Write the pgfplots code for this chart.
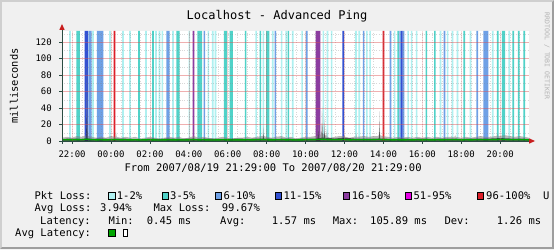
\documentclass[border=0pt]{standalone}
\usepackage{fontspec}
\setmonofont{DejaVu Sans Mono}
\usepackage{pgfplots}
\pgfplotsset{compat=1.18}
\definecolor{bgc}{RGB}{240,240,240}
\definecolor{shadeA}{RGB}{207,207,207}
\definecolor{shadeB}{RGB}{158,158,158}
\definecolor{axisc}{RGB}{44,77,67}
\definecolor{arrowc}{RGB}{200,30,30}
\definecolor{mgrid}{RGB}{220,80,80}
\definecolor{Lone}{RGB}{175,240,240}
\definecolor{Ltwo}{RGB}{80,210,200}
\definecolor{Lthree}{RGB}{110,160,230}
\definecolor{Lfour}{RGB}{50,80,210}
\definecolor{Lfive}{RGB}{140,60,160}
\definecolor{Lsix}{RGB}{230,0,230}
\definecolor{Lseven}{RGB}{220,30,40}
\definecolor{medc}{RGB}{0,165,0}
\newcommand\lf{\ttfamily\fontsize{10.5}{12}\selectfont}
\begin{document}
\begin{tikzpicture}[x=1pt,y=1pt]
\fill[bgc] (0,0) rectangle (554,249);
\fill[shadeA] (0,0) -- (0,249) -- (554,249) -- (552,247) -- (2,247) -- (2,2) -- cycle;
\fill[shadeB] (554,249) -- (554,0) -- (0,0) -- (2,2) -- (552,2) -- (552,247) -- cycle;
\fill[bgc] (2,2) rectangle (552,247);

\begin{axis}[
 at={(62pt,108pt)}, anchor=south west, scale only axis,
 width=467pt, height=110pt,
 xmin=21.4833, xmax=45.4833, ymin=0, ymax=133.3,
 enlargelimits=false,
 axis line style={draw=none},
 axis background/.style={fill=white},
 axis on top,
 xtick={22,24,...,44},
 xticklabels={22:00,00:00,02:00,04:00,06:00,08:00,10:00,12:00,14:00,16:00,18:00,20:00},
 ytick={0,20,...,120},
 minor xtick={21.5,22,...,45},
 minor ytick={10,30,...,130},
 grid=both,
 major y grid style={draw=mgrid, line width=0.5pt, opacity=0.45},
 major x grid style={draw=mgrid, line width=0.5pt, opacity=0.2},
 minor grid style={draw=gray, line width=0.4pt, opacity=0.3, dotted},
 tick pos=left,
 major tick length=3pt, minor tick length=0pt,
 tick align=outside,
 major tick style={draw=axisc, line width=0.6pt},
 tick label style={font=\ttfamily\fontsize{9}{10}\selectfont, text=black},
 xticklabel style={anchor=base, inner sep=0pt, yshift=-14pt},
 yticklabel style={anchor=base east, inner sep=0pt, xshift=-7pt, yshift=-3.2pt},
 /pgf/number format/assume math mode=true,
]
% loss bars
\addplot[ybar, bar width=0.085, bar shift=0pt, fill=Lone, draw=none] coordinates {
(21.895,133.3) (23.077,133.3) (23.951,133.3) (24.620,133.3) (24.980,133.3) (25.802,133.3)
(26.316,133.3) (26.496,133.3) (26.640,133.3) (27.190,133.3) (28.028,133.3) (29.005,133.3)
(29.231,133.3) (29.375,133.3) (31.458,133.3) (31.833,133.3) (32.316,133.3) (32.768,133.3)
(33.000,133.3) (33.345,133.3) (33.823,133.3) (34.918,133.3) (35.124,133.3) (35.339,133.3)
(36.589,133.3) (36.763,133.3) (37.149,133.3) (37.319,133.3) (38.579,133.3) (39.273,133.3)
(39.453,133.3) (39.710,133.3) (40.933,133.3) (41.303,133.3) (41.550,133.3) (41.807,133.3)
(42.475,133.3) (43.617,133.3) (44.465,133.3)};
\addplot[ybar, bar width=0.085, bar shift=0pt, fill=Ltwo, draw=none] coordinates {
(22.270,133.3) (22.353,133.3) (25.442,133.3) (26.162,133.3) (27.405,133.3) (27.489,133.3)
(28.482,133.3) (28.565,133.3) (28.648,133.3) (29.848,133.3) (29.931,133.3) (30.144,133.3)
(30.227,133.3) (30.918,133.3) (31.676,133.3) (32.015,133.3) (32.098,133.3) (33.118,133.3)
(38.759,133.3) (40.211,133.3) (40.648,133.3) (42.152,133.3) (43.874,133.3) (44.128,133.3)
(44.211,133.3) (44.676,133.3) (44.954,133.3) (45.242,133.3)};
\addplot[ybar, bar width=0.085, bar shift=0pt, fill=Lthree, draw=none] coordinates {
(22.881,133.3) (22.965,133.3) (23.312,133.3) (23.395,133.3) (23.479,133.3) (23.562,133.3)
(26.891,133.3) (26.975,133.3) (28.799,133.3) (32.450,133.3) (34.064,133.3) (36.985,133.3)
(38.362,133.3) (38.861,133.3) (39.031,133.3) (41.139,133.3) (42.820,133.3) (43.187,133.3)
(43.270,133.3) (43.353,133.3)};
\addplot[ybar, bar width=0.085, bar shift=0pt, fill=Lfour, draw=none] coordinates {
(22.689,133.3) (22.772,133.3) (35.941,133.3) (38.948,133.3)};
\addplot[ybar, bar width=0.085, bar shift=0pt, fill=Lfive, draw=none] coordinates {
(28.244,133.3) (34.555,133.3) (34.638,133.3) (34.721,133.3)};
\addplot[ybar, bar width=0.085, bar shift=0pt, fill=Lseven, draw=none] coordinates {
(24.183,133.3) (38.002,133.3)};
% smoke
\addplot[fill=gray, fill opacity=0.55, draw=none] coordinates {
(21.4833,4) (21.75,5) (22.00,4) (22.25,6) (22.50,5) (22.73,7) (22.76,105.9) (22.79,30) (22.82,6)
(23.00,5) (23.25,4) (23.50,5) (23.75,4) (24.00,6) (24.23,5) (24.26,11) (24.29,5) (24.50,4)
(24.75,5) (25.00,4) (25.25,5) (25.50,3) (25.75,4) (26.00,5) (26.25,4) (26.50,3) (26.75,4)
(27.00,5) (27.25,4) (27.50,5) (27.75,3) (28.00,4) (28.25,6) (28.50,4) (28.75,5) (29.00,4)
(29.25,3) (29.50,4) (29.75,5) (30.00,4) (30.25,3) (30.50,4) (30.75,4) (31.00,5) (31.25,4)
(31.50,5) (31.75,6) (31.80,6) (31.83,18) (31.86,6) (32.00,5) (32.25,4) (32.50,5) (32.75,6)
(33.00,4) (33.25,5) (33.50,3) (33.75,4) (34.00,5) (34.25,5) (34.50,6) (34.62,6) (34.65,24)
(34.68,7) (34.76,7) (34.79,12) (34.82,8) (34.85,42) (34.88,9) (34.94,8) (34.97,28) (35.00,8)
(35.07,6) (35.10,14) (35.13,5) (35.25,4) (35.50,5) (35.75,6) (35.97,6) (36.00,8) (36.03,5)
(36.25,4) (36.50,5) (36.57,5) (36.60,9) (36.63,5) (37.00,6) (37.25,5) (37.50,6) (37.70,6)
(37.77,7) (37.80,36) (37.83,7) (37.95,6) (38.25,5) (38.50,4) (38.75,5) (39.00,4)
(39.25,5) (39.50,4) (39.75,5) (40.00,4) (40.25,5) (40.50,4) (40.75,5) (41.00,4) (41.25,5)
(41.50,5) (41.66,5) (41.69,7) (41.72,5) (42.00,4) (42.25,5) (42.50,4) (42.75,5) (43.00,6)
(43.25,5) (43.50,5) (43.75,6) (43.82,6) (43.85,9) (43.88,6) (44.25,7) (44.50,6) (44.75,5)
(45.00,6) (45.25,5) (45.4833,4)} \closedcycle;
\addplot[fill=black, fill opacity=0.55, draw=none] coordinates {
(21.4833,2.5) (22.0,3) (22.5,2.5) (22.73,3) (22.76,32) (22.79,3) (23.0,2.5) (23.5,3) (24.0,2.5)
(24.5,3) (25.0,2.5) (25.5,2) (26.0,3) (26.5,2.5) (27.0,3) (27.5,2.5) (28.0,3) (28.5,2.5)
(29.0,3) (29.5,2.5) (30.0,2.5) (30.5,3) (31.0,2.5) (31.5,3) (31.80,3) (31.83,8) (31.86,3)
(32.0,3) (32.5,2.5) (33.0,3) (33.5,2.5) (34.0,3) (34.5,3) (34.62,3) (34.65,12) (34.68,3)
(34.82,4) (34.85,22) (34.88,4) (34.94,4) (34.97,12) (35.00,4) (35.5,3) (36.0,4) (36.5,3)
(37.0,3) (37.5,3) (37.77,3) (37.80,16) (37.83,3) (38.5,2.5) (39.0,3)
(39.5,2.5) (40.0,3) (40.5,2.5) (41.0,3) (41.5,3) (42.0,2.5) (42.5,3) (43.0,3) (43.5,3)
(44.0,3.5) (44.5,3) (45.0,3) (45.4833,2.5)} \closedcycle;
% median
\addplot[medc, line width=1.4pt] coordinates {
(21.4833,1.5) (21.75,1.6) (22.00,1.4) (22.25,1.7) (22.50,1.5) (22.75,2.2) (23.00,1.6)
(23.25,1.4) (23.50,1.5) (23.75,1.3) (24.00,1.6) (24.25,1.8) (24.50,1.4) (24.75,1.5)
(25.00,1.3) (25.25,1.5) (25.50,1.2) (25.75,1.4) (26.00,1.5) (26.25,1.3) (26.50,1.2)
(26.75,1.4) (27.00,1.5) (27.25,1.3) (27.50,1.5) (27.75,1.2) (28.00,1.4) (28.25,1.7)
(28.50,1.4) (28.75,1.5) (29.00,1.3) (29.25,1.2) (29.50,1.4) (29.75,1.5) (30.00,1.4)
(30.25,1.2) (30.50,1.4) (30.75,1.3) (31.00,1.5) (31.25,1.4) (31.50,1.5) (31.75,1.7)
(32.00,1.5) (32.25,1.3) (32.50,1.5) (32.75,1.6) (33.00,1.4) (33.25,1.5) (33.50,1.2)
(33.75,1.4) (34.00,1.5) (34.25,1.6) (34.50,1.7) (34.75,2.0) (35.00,1.9) (35.25,1.5)
(35.50,1.5) (35.75,1.7) (36.00,1.8) (36.25,1.4) (36.50,1.5) (36.75,1.5) (37.00,1.6)
(37.25,1.5) (37.50,1.6) (37.75,1.9) (38.00,1.6) (38.25,1.5) (38.50,1.4) (38.75,1.5)
(39.00,1.3) (39.25,1.5) (39.50,1.4) (39.75,1.5) (40.00,1.4) (40.25,1.5) (40.50,1.3)
(40.75,1.5) (41.00,1.4) (41.25,1.5) (41.50,1.5) (41.75,1.6) (42.00,1.4) (42.25,1.5)
(42.50,1.4) (42.75,1.5) (43.00,1.6) (43.25,1.5) (43.50,1.5) (43.75,1.7) (44.00,1.8)
(44.25,1.8) (44.50,1.6) (44.75,1.5) (45.00,1.6) (45.25,1.5) (45.4833,1.4)};
\end{axis}

% axis lines and arrows
\draw[axisc, line width=0.8pt] (59,108) -- (530,108);
\fill[arrowc] (535,108) -- (529,110.7) -- (529,105.3) -- cycle;
\draw[axisc, line width=0.8pt] (62,105) -- (62,220);
\fill[arrowc] (62,225) -- (59.3,219) -- (64.7,219) -- cycle;

% title and labels
\node[anchor=base, inner sep=0pt] at (277,229.6) {\ttfamily\fontsize{12}{14}\selectfont Localhost - Advanced Ping};
\node[rotate=90, inner sep=0pt] at (14,163) {\ttfamily\fontsize{10.4}{12}\selectfont milliseconds};
\node[rotate=-90, inner sep=0pt, text=black!30] at (547,193) {\ttfamily\fontsize{6.5}{8}\selectfont RRDTOOL / TOBI OETIKER};
\node[anchor=base west, inner sep=0pt] at (124.3,77.5) {\lf From 2007/08/19 21:29:00 To 2007/08/20 21:29:00};

% legend row 1
\node[anchor=base west, inner sep=0pt] at (34.3,49.7) {\lf Pkt Loss:};
\filldraw[fill=Lone, draw=black, line width=0.5pt] (108.6,50.2) rectangle (114.8,56.8);
\node[anchor=base west, inner sep=0pt] at (116.7,49.7) {\lf 1-2\%};
\filldraw[fill=Ltwo, draw=black, line width=0.5pt] (162,50.2) rectangle (168.2,56.8);
\node[anchor=base west, inner sep=0pt] at (170,49.7) {\lf 3-5\%};
\filldraw[fill=Lthree, draw=black, line width=0.5pt] (215.3,50.2) rectangle (221.5,56.8);
\node[anchor=base west, inner sep=0pt] at (223.3,49.7) {\lf 6-10\%};
\filldraw[fill=Lfour, draw=black, line width=0.5pt] (275.3,50.2) rectangle (281.5,56.8);
\node[anchor=base west, inner sep=0pt] at (283.3,49.7) {\lf 11-15\%};
\filldraw[fill=Lfive, draw=black, line width=0.5pt] (343,50.2) rectangle (349.2,56.8);
\node[anchor=base west, inner sep=0pt] at (351.7,49.7) {\lf 16-50\%};
\filldraw[fill=Lsix, draw=black, line width=0.5pt] (405.3,50.2) rectangle (411.5,56.8);
\node[anchor=base west, inner sep=0pt] at (413.3,49.7) {\lf 51-95\%};
\filldraw[fill=Lseven, draw=black, line width=0.5pt] (477,50.2) rectangle (483.2,56.8);
\node[anchor=base west, inner sep=0pt] at (486,49.7) {\lf 96-100\%};
\node[anchor=base west, inner sep=0pt] at (543,49.7) {\lf U};

% legend row 2
\node[anchor=base west, inner sep=0pt] at (34.3,37.2) {\lf Avg Loss:};
\node[anchor=base west, inner sep=0pt] at (100,37.2) {\lf 3.94\%};
\node[anchor=base west, inner sep=0pt] at (153.3,37.2) {\lf Max Loss:};
\node[anchor=base west, inner sep=0pt] at (221.7,37.2) {\lf 99.67\%};

% legend row 3
\node[anchor=base west, inner sep=0pt] at (40,24.7) {\lf Latency:};
\node[anchor=base west, inner sep=0pt] at (108.3,24.7) {\lf Min:};
\node[anchor=base west, inner sep=0pt] at (146.7,24.7) {\lf 0.45 ms};
\node[anchor=base west, inner sep=0pt] at (220,24.7) {\lf Avg:};
\node[anchor=base west, inner sep=0pt] at (271.7,24.7) {\lf 1.57 ms};
\node[anchor=base west, inner sep=0pt] at (332.7,24.7) {\lf Max:};
\node[anchor=base west, inner sep=0pt] at (370,24.7) {\lf 105.89 ms};
\node[anchor=base west, inner sep=0pt] at (444.3,24.7) {\lf Dev:};
\node[anchor=base west, inner sep=0pt] at (496.7,24.7) {\lf 1.26 ms};

% legend row 4
\node[anchor=base west, inner sep=0pt] at (15,12.2) {\lf Avg Latency:};
\filldraw[fill=medc, draw=black, line width=0.5pt] (108.6,12.7) rectangle (114.8,19.3);
\draw[black, line width=0.5pt, fill=white] (123.5,12.7) rectangle (127.3,19.3);

\pgfresetboundingbox
\path[use as bounding box] (0,0) rectangle (554,249);
\end{tikzpicture}
\end{document}
